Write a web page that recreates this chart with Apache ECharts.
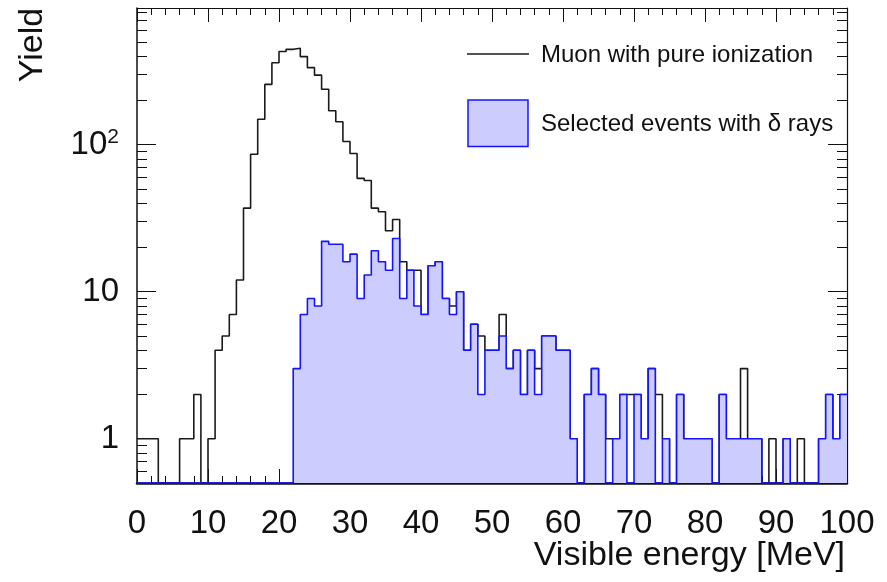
<!DOCTYPE html>
<html>
<head>
<meta charset="utf-8">
<title>Visible energy spectrum</title>
<script src="https://cdn.jsdelivr.net/npm/echarts@6/dist/echarts.min.js"></script>
<style>
  html, body { margin: 0; padding: 0; background: #fff; }
  #chart { width: 887px; height: 582px; }
</style>
</head>
<body>
<div id="chart"></div>
<script>
// Histogram binning: 100 bins of 1 MeV from 0 to 100 MeV
const X_MIN = 0;
const X_MAX = 100;
const BIN_WIDTH = 1;

// Log-axis range of the yield
const Y_MIN = 0.5;
const Y_MAX = 850;

// Counts per bin, muons with pure ionization
const muonCounts = [
  1, 1, 1, 0, 0, 0, 1, 1, 2, 0,
  1, 4, 5, 7, 12, 37, 86, 149, 257, 361,
  430, 445, 452, 397, 334, 297, 238, 170, 143, 105,
  87, 59, 57, 37, 35, 26, 31, 16, 14, 14,
  7, 15, 16, 9, 8, 10, 4, 6, 5, 4,
  4, 7, 3, 4, 2, 4, 3, 5, 5, 4,
  4, 1, 0, 2, 3, 2, 1, 1, 2, 2,
  2, 1, 3, 2, 1, 0, 2, 1, 1, 1,
  1, 0, 2, 1, 1, 3, 1, 1, 0, 1,
  0, 1, 0, 1, 0, 0, 1, 2, 1, 2
];

// Counts per bin, selected events with delta rays
const deltaCounts = [
  0, 0, 0, 0, 0, 0, 0, 0, 0, 0,
  0, 0, 0, 0, 0, 0, 0, 0, 0, 0,
  0, 0, 3, 7, 9, 8, 22, 21, 21, 16,
  18, 9, 13, 19, 16, 14, 23, 9, 14, 8,
  7, 15, 16, 9, 7, 10, 4, 6, 2, 4,
  4, 5, 3, 4, 2, 4, 2, 5, 5, 4,
  4, 1, 0, 2, 3, 2, 0, 1, 2, 0,
  2, 1, 3, 0, 1, 0, 2, 1, 1, 1,
  1, 0, 2, 1, 1, 1, 1, 1, 0, 0,
  0, 1, 0, 0, 0, 0, 1, 2, 1, 2
];

// Axis tick values
const xTickInterval = 10;
const yMajorTicks = [1, 10, 100];
const yMinorTicks = [0.6, 0.7, 0.8, 0.9, 2, 3, 4, 5, 6, 7, 8, 9,
                     20, 30, 40, 50, 60, 70, 80, 90, 200, 300, 400, 500, 600, 700, 800];

// Legend and axis texts
const legendMuon = 'Muon with pure ionization';
const legendDelta = 'Selected events with \u03b4 rays';
const xTitle = 'Visible energy [MeV]';
const yTitle = 'Yield';

const FONT = '"Liberation Sans", Arial, Helvetica, sans-serif';
const INK = '#111';

// Bin-edge points for a stepped outline; empty bins sit on the axis floor
function stepPoints(counts) {
  const pts = counts.map((c, i) => [X_MIN + i * BIN_WIDTH, Math.max(c, Y_MIN)]);
  pts.push([X_MIN + counts.length * BIN_WIDTH, pts[pts.length - 1][1]]);
  return pts;
}

function yLabel(v) {
  if (v === 100) return '{n|10}{s|2}';
  return '{n|' + v + '}';
}

const chart = echarts.init(document.getElementById('chart'), null, { renderer: 'canvas' });

const xBase = {
  type: 'value', min: X_MIN, max: X_MAX, interval: xTickInterval,
  splitLine: { show: false },
  axisTick: { inside: true, length: 14, lineStyle: { color: INK, width: 1 } },
  minorTick: { show: true, splitNumber: 5, length: 7, lineStyle: { color: INK, width: 1 } },
};

const yBase = {
  type: 'log', logBase: 10, min: Y_MIN, max: Y_MAX,
  splitLine: { show: false }, minorTick: { show: false },
};

chart.setOption({
  animation: false,
  backgroundColor: '#fff',
  grid: { left: 137, right: 40, top: 8, bottom: 99, containLabel: false, outerBoundsMode: 'none' },
  xAxis: [
    Object.assign({}, xBase, {
      position: 'bottom',
      axisLine: { show: true, onZero: false, lineStyle: { color: INK, width: 2.5 } },
      axisLabel: { show: true, color: INK, fontSize: 33, fontFamily: FONT, margin: 24 }
    }),
    Object.assign({}, xBase, {
      position: 'top',
      axisLine: { show: true, onZero: false, lineStyle: { color: INK, width: 1 } },
      axisLabel: { show: false }
    })
  ],
  yAxis: [
    Object.assign({}, yBase, {
      position: 'left',
      axisLine: { show: true, lineStyle: { color: INK, width: 1.5 } },
      axisTick: { show: true, inside: true, length: 19, customValues: yMajorTicks, lineStyle: { color: INK, width: 1 } },
      axisLabel: {
        show: true, customValues: yMajorTicks, formatter: yLabel, margin: 18,
        color: INK, fontFamily: FONT, fontSize: 33,
        rich: {
          n: { fontSize: 33, fontFamily: FONT, color: INK, lineHeight: 36 },
          s: { fontSize: 21, fontFamily: FONT, color: INK, lineHeight: 36, verticalAlign: 'top', padding: [0, 0, 12, 0] }
        }
      }
    }),
    Object.assign({}, yBase, {
      position: 'left',
      axisLine: { show: false },
      axisTick: { show: true, inside: true, length: 10, customValues: yMinorTicks, lineStyle: { color: INK, width: 1 } },
      axisLabel: { show: false }
    }),
    Object.assign({}, yBase, {
      position: 'right',
      axisLine: { show: true, lineStyle: { color: INK, width: 1.2 } },
      axisTick: { show: true, inside: true, length: 19, customValues: yMajorTicks, lineStyle: { color: INK, width: 1 } },
      axisLabel: { show: false }
    }),
    Object.assign({}, yBase, {
      position: 'right',
      axisLine: { show: false },
      axisTick: { show: true, inside: true, length: 10, customValues: yMinorTicks, lineStyle: { color: INK, width: 1 } },
      axisLabel: { show: false }
    })
  ],
  series: [
    {
      name: legendMuon, type: 'line', step: 'end',
      xAxisIndex: 0, yAxisIndex: 0,
      data: stepPoints(muonCounts),
      showSymbol: false, symbol: 'none',
      lineStyle: { color: '#1a1a1a', width: 1.6 },
      z: 2
    },
    {
      name: legendDelta, type: 'line', step: 'end',
      xAxisIndex: 0, yAxisIndex: 0,
      data: stepPoints(deltaCounts),
      showSymbol: false, symbol: 'none',
      lineStyle: { color: '#1414ff', width: 1.6 },
      areaStyle: { color: '#ccccff', opacity: 1, origin: 'start' },
      z: 3
    }
  ],
  graphic: [
    { type: 'line', shape: { x1: 467, y1: 54, x2: 529, y2: 54 }, style: { stroke: '#1a1a1a', lineWidth: 1.5 }, z: 10 },
    { type: 'text', x: 541, y: 55, style: { text: legendMuon, fill: INK, fontSize: 24, fontFamily: FONT, align: 'left', verticalAlign: 'middle', textAlign: 'left', textVerticalAlign: 'middle' }, z: 10 },
    { type: 'rect', shape: { x: 468, y: 100, width: 60, height: 46.5 }, style: { fill: '#ccccff', stroke: '#1414ff', lineWidth: 1.5 }, z: 10 },
    { type: 'text', x: 541, y: 124, style: { text: legendDelta, fill: INK, fontSize: 24, fontFamily: FONT, align: 'left', verticalAlign: 'middle', textAlign: 'left', textVerticalAlign: 'middle' }, z: 10 },
    { type: 'text', x: 845, y: 556, style: { text: xTitle, fill: INK, fontSize: 34, fontFamily: FONT, align: 'right', verticalAlign: 'middle', textAlign: 'right', textVerticalAlign: 'middle' }, z: 10 },
    { type: 'text', x: 33, y: 45, rotation: Math.PI / 2, style: { text: yTitle, fill: INK, fontSize: 34, fontFamily: FONT, align: 'center', verticalAlign: 'middle', textAlign: 'center', textVerticalAlign: 'middle' }, z: 10 }
  ]
});
</script>
</body>
</html>
